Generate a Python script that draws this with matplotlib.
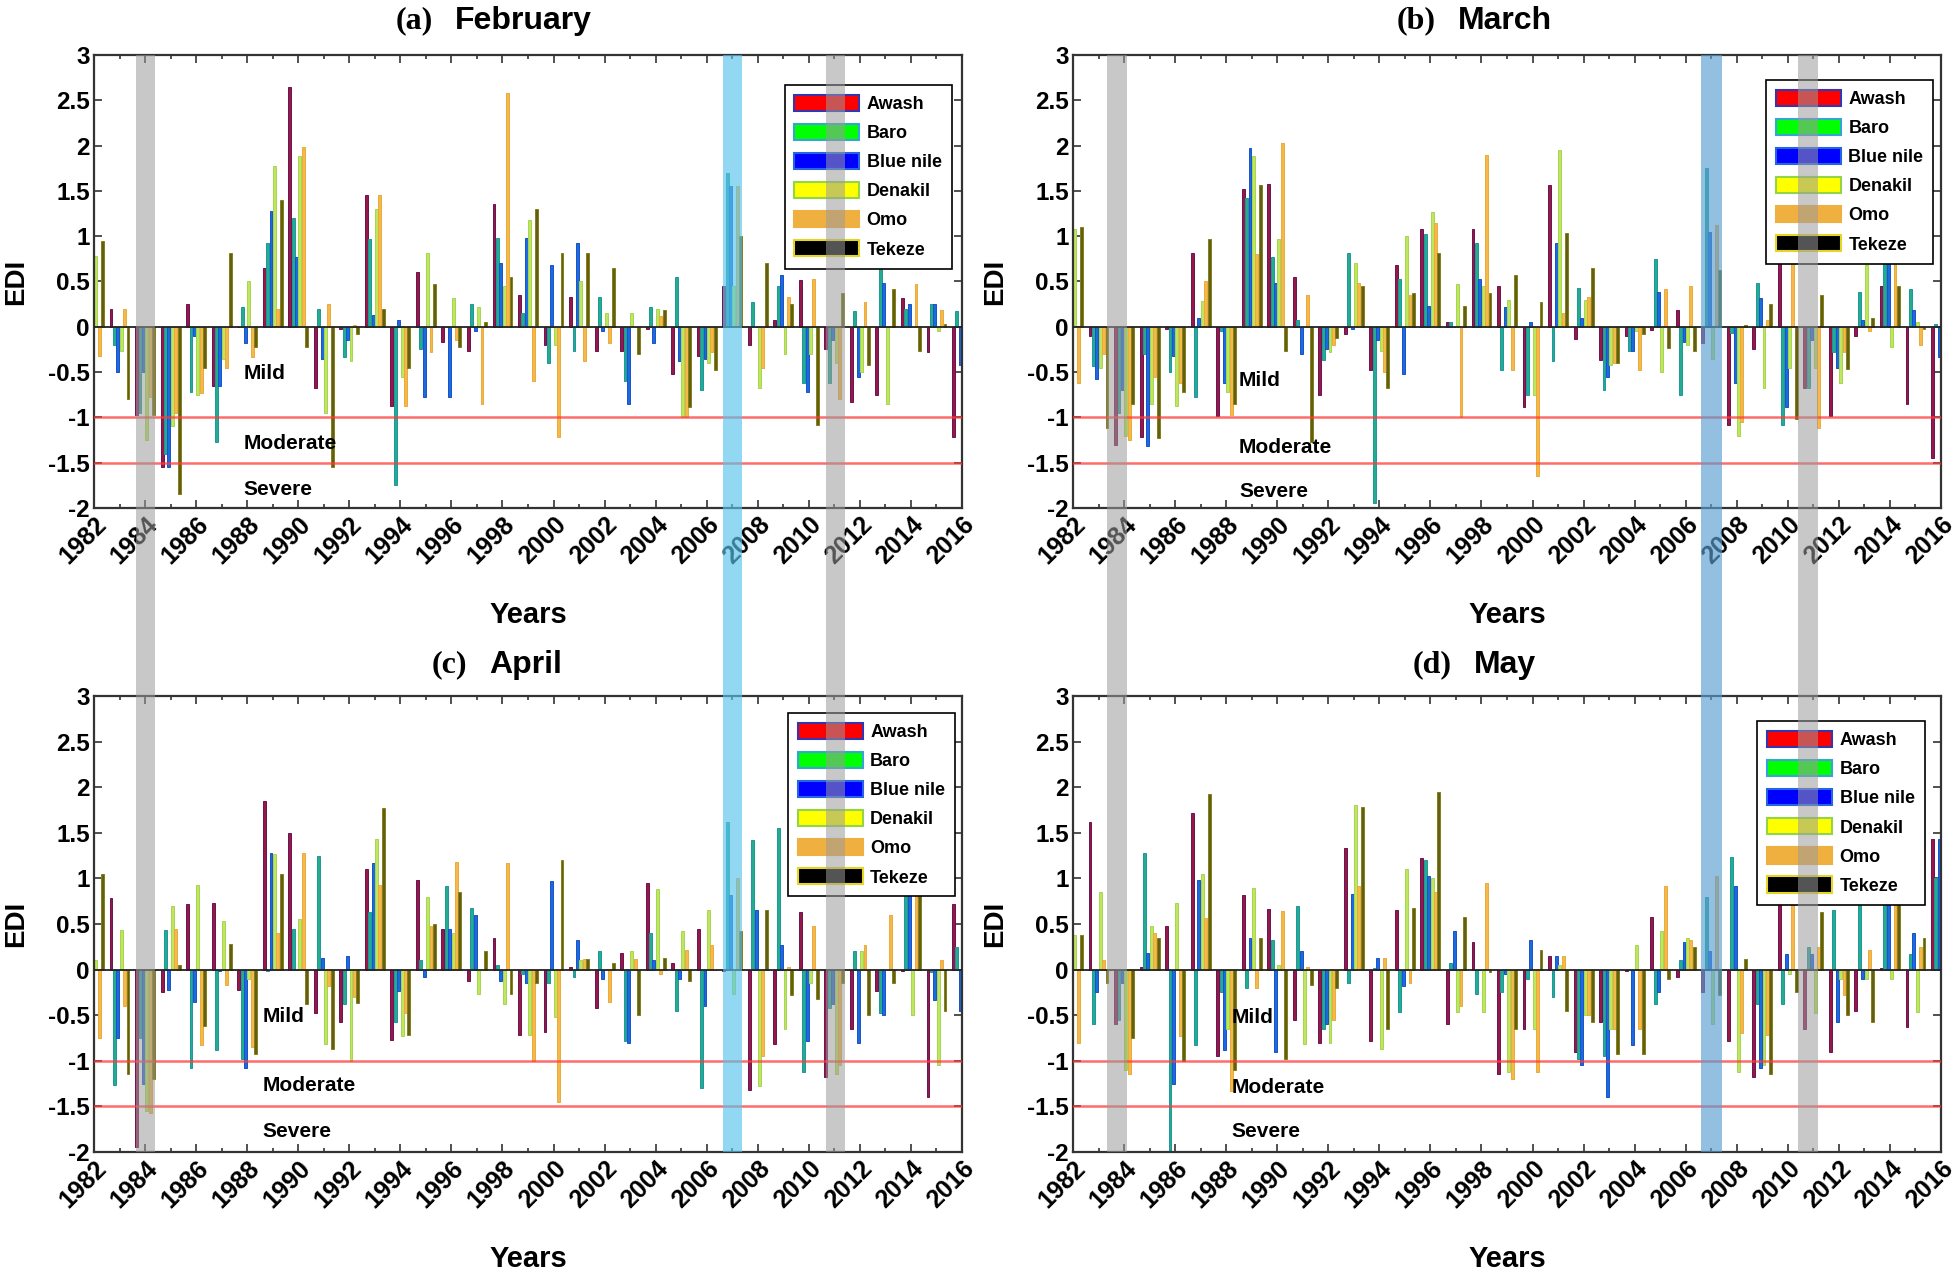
import numpy as np
import matplotlib
matplotlib.use("Agg")
import matplotlib.pyplot as plt
import matplotlib.transforms as mtransforms
from matplotlib.patches import Rectangle, Patch

# ==========================================
# data (EDI, 1982-2016)
# ==========================================

years = np.arange(1982, 2017)

basins = ["Awash", "Baro", "Blue nile", "Denakil", "Omo", "Tekeze"]

feb_awash = [0.0, 0.2, -0.97, -1.55, 0.25, -0.65, 0.0, 0.65, 2.65, -0.68, -0.02, 1.45, -0.87, 0.6, -0.17, -0.27, 1.35, 0.35,
             -0.2, 0.33, -0.27, -0.27, -0.02, -0.52, -0.32, 0.45, -0.2, 0.07, 0.52, -0.25, -0.83, -0.75, 0.32, -0.28, -1.22]
feb_baro = [0.0, -0.2, -0.95, -1.4, -0.72, -1.27, 0.22, 0.93, 1.2, 0.2, -0.33, 0.97, -1.75, -0.25, 0.0, 0.25, 0.98, 0.15,
            -0.4, -0.27, 0.33, -0.6, 0.22, 0.55, -0.7, 1.7, 0.27, 0.45, -0.62, -0.62, 0.17, 0.75, 0.2, 0.25, 0.17]
feb_bluenile = [0.0, -0.5, -0.5, -1.55, -0.1, -0.65, -0.18, 1.28, 0.77, -0.35, -0.15, 0.13, 0.08, -0.77, -0.78, -0.05, 0.7, 0.98,
                0.68, 0.92, -0.05, -0.85, -0.18, -0.38, -0.35, 1.55, 0.0, 0.57, -0.72, -0.15, -0.55, 0.48, 0.25, 0.25, -0.42]
feb_denakil = [0.78, -0.27, -1.25, -1.1, -0.75, -0.35, 0.5, 1.77, 1.88, -0.95, -0.38, 1.3, -0.55, 0.82, 0.32, 0.22, 0.45, 1.18,
               -0.2, 0.5, 0.15, 0.15, 0.2, -1.0, -0.4, 0.45, -0.68, -0.3, -0.3, -0.4, -0.5, -0.85, 0.0, -0.05, -0.6]
feb_omo = [-0.32, 0.2, -0.78, -0.95, -0.73, -0.45, -0.33, 0.2, 1.98, 0.25, 0.02, 1.45, -0.87, -0.28, -0.15, -0.85, 2.58, -0.6,
           -1.22, -0.38, -0.18, 0.0, 0.12, -1.0, -0.28, 1.55, -0.45, 0.33, 0.53, -0.8, 0.27, 0.0, 0.47, 0.18, 0.0]
feb_tekeze = [0.95, -0.8, -0.97, -1.85, -0.45, 0.82, -0.22, 1.4, -0.22, -1.55, -0.08, 0.2, -0.45, 0.47, -0.22, 0.05, 0.55, 1.3,
              0.82, 0.82, 0.65, -0.3, 0.18, -0.88, -0.48, 1.0, 0.7, 0.25, -1.08, 0.37, -0.42, 0.42, -0.27, 0.03, 0.0]

mar_awash = [0.0, -0.1, -1.3, -1.22, -0.02, 0.82, -0.98, 1.52, 1.58, 0.55, -0.75, -0.08, -0.48, 0.68, 1.08, 0.05, 1.08, 0.45,
             -0.88, 1.57, -0.13, -0.37, -0.1, -0.03, 0.18, -0.18, -1.08, -0.25, 1.0, -0.68, -0.98, -0.1, 0.45, -0.85, -1.45]
mar_baro = [0.0, -0.43, -0.95, -0.3, -0.5, -0.77, -0.05, 1.42, 0.77, 0.07, -0.37, 0.82, -1.95, 0.53, 1.02, 0.05, 0.93, -0.48,
            -0.75, -0.38, 0.43, -0.7, -0.27, 0.75, -0.75, 1.75, -0.07, 0.48, -1.08, -0.68, -0.28, 0.38, 0.9, 0.42, 0.03]
mar_bluenile = [0.0, -0.58, -0.7, -1.32, -0.32, 0.1, -0.62, 1.97, 0.48, -0.3, -0.25, -0.02, -0.15, -0.52, 0.23, 0.0, 0.53, 0.22,
                0.05, 0.93, 0.1, -0.55, -0.27, 0.38, -0.17, 1.05, -0.62, 0.32, -0.88, -0.15, -0.45, 0.07, 0.85, 0.18, -0.33]
mar_denakil = [1.08, -0.45, -1.2, -0.85, -0.87, 0.28, -0.72, 1.88, 0.97, 0.0, -0.28, 0.7, -0.27, 1.0, 1.27, 0.47, 0.45, 0.3,
               -0.75, 1.95, 0.3, -0.42, -0.05, -0.5, -0.2, -0.35, -1.2, -0.67, -0.45, -0.45, -0.62, 0.68, -0.22, 0.05, -0.78]
mar_omo = [-0.62, -0.3, -1.25, -0.55, -0.62, 0.5, -0.97, 0.8, 2.03, 0.35, -0.2, 0.48, -0.5, 0.35, 1.15, -1.0, 1.9, -0.48,
           -1.65, 0.15, 0.33, -0.4, -0.48, 0.42, 0.45, 1.12, -1.05, 0.08, 1.05, -1.12, -0.28, -0.05, 0.85, -0.2, 0.0]
mar_tekeze = [1.1, -1.12, -0.85, -1.23, -0.72, 0.97, -0.85, 1.57, -0.27, -1.27, -0.12, 0.45, -0.68, 0.37, 0.82, 0.23, 0.37, 0.57,
              0.27, 1.03, 0.65, -0.4, -0.08, -0.23, -0.27, 0.63, 0.02, 0.25, -1.02, 0.35, -0.47, 0.1, 0.45, -0.02, 0.0]

apr_awash = [0.0, 0.78, -1.95, -0.25, 0.72, 0.73, -0.22, 1.85, 1.5, -0.48, -0.58, 1.1, -0.77, 0.98, 0.45, -0.12, 0.35, -0.72,
             -0.68, 0.03, -0.42, 0.18, 0.95, 0.07, 0.45, -0.02, -1.32, -0.82, 0.63, -1.18, -0.65, -0.23, -0.02, -1.4, 0.72]
apr_baro = [0.0, -1.27, -0.75, 0.43, -1.08, -0.88, -0.98, -0.02, 0.45, 1.25, -0.38, 0.63, -0.58, 0.1, 0.92, 0.68, 0.05, -0.05,
            -0.15, -0.08, 0.2, -0.78, 0.4, -0.45, -1.3, 1.62, 1.42, 1.55, -1.12, -0.42, 0.2, -0.48, 0.95, -0.03, 0.25]
apr_bluenile = [0.38, -0.75, -1.25, -0.22, -0.35, -0.02, -1.08, 1.28, 0.0, 0.13, 0.15, 1.17, -0.23, -0.08, 0.45, 0.6, -0.12, -0.15,
                0.97, 0.32, -0.1, -0.8, 0.1, -0.1, -0.4, 0.82, 0.65, 0.27, -0.78, -0.38, -0.8, -0.5, 1.0, -0.33, -0.45]
apr_denakil = [0.1, 0.43, -1.55, 0.7, 0.93, 0.53, -0.1, 1.27, 0.55, -0.82, -1.0, 1.43, -0.73, 0.8, 0.4, -0.27, -0.38, -0.72,
               -0.52, 0.1, 0.0, 0.2, 0.88, 0.42, 0.65, -0.27, -1.28, -0.65, -0.15, -1.15, 0.2, 0.0, -0.5, -1.05, 1.8]
apr_omo = [-0.75, -0.4, -1.57, 0.45, -0.83, -0.17, -0.85, 0.4, 1.28, -0.18, -0.3, 0.93, -0.48, 0.48, 1.18, 0.0, 1.17, -1.0,
           -1.45, 0.12, -0.35, 0.12, -0.05, 0.22, 0.27, 1.0, -0.95, 0.03, 0.48, -1.05, 0.27, 0.6, 0.9, 0.1, 0.0]
apr_tekeze = [1.05, -1.15, -1.2, 0.05, -0.62, 0.28, -0.92, 1.05, -0.38, -0.87, -0.37, 1.77, -0.72, 0.5, 0.85, 0.2, -0.27, -0.15,
              1.2, 0.12, 0.07, -0.5, 0.13, -0.12, 0.0, 0.42, 0.65, -0.28, -0.32, -0.15, -0.5, -0.15, 0.92, -0.45, 0.0]

may_awash = [0.0, 1.62, -0.6, 0.03, 0.48, 1.72, -0.95, 0.82, 0.66, -0.55, -0.8, 1.33, -0.78, 0.65, 1.22, -0.6, 0.3, -1.15,
             -0.65, 0.15, -0.9, -0.57, -0.02, 0.58, -0.08, -0.25, -0.78, -1.18, 1.0, -0.65, -0.9, -0.45, 0.02, -0.63, 1.43]
may_baro = [0.0, -0.6, -0.55, 1.28, -2.0, -0.83, -0.25, -0.2, 0.33, 0.7, -0.65, -0.15, 0.02, -0.47, 1.2, 0.07, -0.27, -0.25,
            -0.1, -0.3, -0.98, -0.95, 0.0, -0.38, 0.1, 0.8, 1.23, -0.38, -0.38, 0.25, 0.65, 0.9, 0.95, 0.17, 1.0]
may_bluenile = [-0.33, -0.25, -0.15, 0.18, -1.25, 0.98, -0.88, 0.35, -0.9, 0.2, -0.6, 0.83, 0.13, -0.18, 1.03, 0.42, 0.0, -0.05,
                0.33, 0.15, -1.05, -1.4, -0.83, -0.25, 0.3, 0.2, 0.92, -1.08, 0.17, 0.17, -0.58, -0.1, 0.9, 0.4, 1.43]
may_denakil = [0.38, 0.85, -1.1, 0.48, 0.73, 1.05, -0.65, 0.9, 0.05, -0.82, -0.8, 1.8, -0.87, 1.1, 1.0, -0.47, -0.47, -1.12,
               -0.65, 0.05, -0.5, -0.65, 0.27, 0.42, 0.35, -0.6, -1.12, -1.05, -0.05, -0.48, -0.1, -0.1, -0.1, -0.47, 2.0]
may_omo = [-0.8, 0.1, -1.15, 0.4, -0.73, 0.57, -1.33, -0.2, 0.64, 0.03, -0.55, 0.92, 0.13, -0.15, 0.85, -0.4, 0.95, -1.2,
           -1.12, 0.15, -0.5, -0.65, -0.65, 0.92, 0.33, 1.03, -0.7, -0.72, 0.95, 0.25, -0.28, 0.22, 0.95, 0.25, 0.0]
may_tekeze = [0.38, -0.15, -0.75, 0.35, -1.0, 1.93, -1.1, 0.35, -0.98, -0.17, -0.2, 1.78, -0.65, 0.67, 1.95, 0.58, -0.03, -0.65,
              0.22, -0.45, -0.57, -0.92, -0.92, -0.1, 0.25, -0.28, 0.12, -1.15, -0.25, 0.63, -0.5, -0.58, 0.9, 0.35, 0.0]

panel_data = [
    [feb_awash, feb_baro, feb_bluenile, feb_denakil, feb_omo, feb_tekeze],
    [mar_awash, mar_baro, mar_bluenile, mar_denakil, mar_omo, mar_tekeze],
    [apr_awash, apr_baro, apr_bluenile, apr_denakil, apr_omo, apr_tekeze],
    [may_awash, may_baro, may_bluenile, may_denakil, may_omo, may_tekeze],
]
panel_letters = ["(a)", "(b)", "(c)", "(d)"]
panel_months = ["February", "March", "April", "May"]

# ==========================================
# styles
# ==========================================

W, H = 1957, 1276

bar_face = ["#951848", "#22AE8C", "#1A6AE0", "#C0E65E", "#F5B94A", "#625E12"]
bar_edge = ["#6A1450", "#1E96A0", "#1A52C8", "#A6D652", "#EBAA3C", "#86801A"]
leg_face = ["#FF0000", "#00FF00", "#0000FF", "#FFFF00", "#F0B040", "#000000"]
leg_edge = ["#3535B0", "#35A5D5", "#2565E5", "#95D545", "#F0B040", "#E5D525"]

# axes boxes in pixels: left, top, right, bottom
boxes = [(94, 55, 962, 508), (1073, 55, 1941, 508),
         (94, 696, 962, 1152), (1073, 696, 1941, 1152)]

# legend anchor (upper right) in axes fraction
leg_anchor = [(0.988, 0.934), (0.991, 0.945), (0.992, 0.963), (0.981, 0.945)]

# Mild / Moderate / Severe label positions
cls_x = [1987.85, 1988.5, 1988.6, 1988.2]
cls_y = [(-0.52, -1.29, -1.80), (-0.59, -1.33, -1.82),
         (-0.51, -1.27, -1.77), (-0.53, -1.29, -1.78)]

# highlighted years (column-wise bands): (center, half width, color, alpha)
bands_left = [(1984.0, 0.37, "#9B9B9B", 0.55), (2007.0, 0.38, "#59C3EB", 0.65),
              (2011.05, 0.36, "#9B9B9B", 0.55)]
bands_right = [(1983.72, 0.40, "#9B9B9B", 0.55), (2007.0, 0.42, "#599DD2", 0.65),
               (2010.8, 0.40, "#9B9B9B", 0.55)]

plt.rcParams["font.family"] = ["Liberation Sans", "DejaVu Sans"]
plt.rcParams["font.weight"] = "bold"
plt.rcParams["axes.labelweight"] = "bold"

fig = plt.figure(figsize=(W / 100, H / 100), dpi=100)

n = len(basins)
group_w = 0.8
step = group_w / n
bar_w = step * 0.85

axes = []
for k in range(4):
    l, t, r, b = boxes[k]
    ax = fig.add_axes([l / W, 1 - b / H, (r - l) / W, (b - t) / H])
    axes.append(ax)

    for i in range(n):
        off = (i - (n - 1) / 2) * step
        ax.bar(years + off, panel_data[k][i], width=bar_w,
               color=bar_face[i], edgecolor=bar_edge[i], linewidth=0.7,
               zorder=2)

    ax.axhline(0, color="#222222", lw=1.3, zorder=3)
    ax.axhline(-1, color="#FF3B3B", lw=1.8, alpha=0.75, zorder=3)
    ax.axhline(-1.5, color="#FF3B3B", lw=1.8, alpha=0.75, zorder=3)

    for txt, yy in zip(["Mild", "Moderate", "Severe"], cls_y[k]):
        ax.text(cls_x[k], yy, txt, fontsize=15, fontweight="bold",
                ha="left", va="center", zorder=4)

    ax.set_xlim(1982, 2016)
    ax.set_ylim(-2, 3)

    yt = np.arange(-2, 3.01, 0.5)
    ax.set_yticks(yt)
    ax.set_yticklabels([f"{v:g}" for v in yt], fontsize=17.5)

    xt = np.arange(1982, 2017, 2)
    ax.set_xticks(xt)
    ax.set_xticks(years, minor=True)
    ax.set_xticklabels([str(v) for v in xt], fontsize=18, rotation=45,
                       ha="right", va="top", rotation_mode="anchor")
    off_tr = mtransforms.ScaledTranslation(2 / 100, -13 / 100, fig.dpi_scale_trans)
    for lab in ax.get_xticklabels():
        lab.set_transform(lab.get_transform() + off_tr)

    ax.tick_params(which="both", direction="in", top=True, right=True,
                   width=1.2, colors="#333333", labelcolor="black")
    ax.tick_params(which="major", length=6, pad=3)
    ax.tick_params(which="minor", length=3)
    for s in ax.spines.values():
        s.set_linewidth(1.6)
        s.set_color("#333333")

    ax.set_ylabel("EDI", fontsize=20, fontweight="bold")
    ax.yaxis.set_label_coords(-0.075, 0.5)
    ax.set_xlabel("Years", fontsize=21, fontweight="bold", va="top")
    ax.xaxis.set_label_coords(0.5, -0.205)

    handles = [Patch(facecolor=leg_face[i], edgecolor=leg_edge[i], linewidth=1.5)
               for i in range(n)]
    leg = ax.legend(handles, basins, loc="upper right",
                    bbox_to_anchor=leg_anchor[k], borderaxespad=0,
                    prop={"size": 13, "weight": "bold"},
                    handlelength=3.6, handleheight=1.0, handletextpad=0.4,
                    labelspacing=0.6, borderpad=0.55, fancybox=False,
                    framealpha=1, edgecolor="black")
    leg.get_frame().set_linewidth(1.2)
    leg.set_zorder(6)

# ==========================================
# bands spanning upper and lower panels
# ==========================================

y_lo = 1 - 1152 / H
y_hi = 1 - 55 / H
for ax, bands in [(axes[0], bands_left), (axes[1], bands_right)]:
    tr = mtransforms.blended_transform_factory(ax.transData, fig.transFigure)
    for c, hw, col, a in bands:
        fig.add_artist(Rectangle((c - hw, y_lo), 2 * hw, y_hi - y_lo,
                                 transform=tr, facecolor=col, alpha=a,
                                 linewidth=0, zorder=5))

# ==========================================
# titles: serif letter + sans month
# ==========================================

title_y = [21, 21, 665, 665]
title_cx = [494, 1474, 497, 1474]
letters, months_t = [], []
for k in range(4):
    t1 = fig.text(0, 1 - title_y[k] / H, panel_letters[k], fontsize=23,
                  fontweight="bold", family=["Liberation Serif", "DejaVu Serif"],
                  ha="left", va="center")
    t2 = fig.text(0, 1 - title_y[k] / H, panel_months[k], fontsize=23,
                  fontweight="bold", ha="left", va="center")
    letters.append(t1)
    months_t.append(t2)

fig.canvas.draw()
rend = fig.canvas.get_renderer()
gap = 22
for k in range(4):
    w1 = letters[k].get_window_extent(rend).width
    w2 = months_t[k].get_window_extent(rend).width
    left = title_cx[k] - (w1 + gap + w2) / 2
    letters[k].set_x(left / W)
    months_t[k].set_x((left + w1 + gap) / W)

fig.savefig("out.png", dpi=100)
